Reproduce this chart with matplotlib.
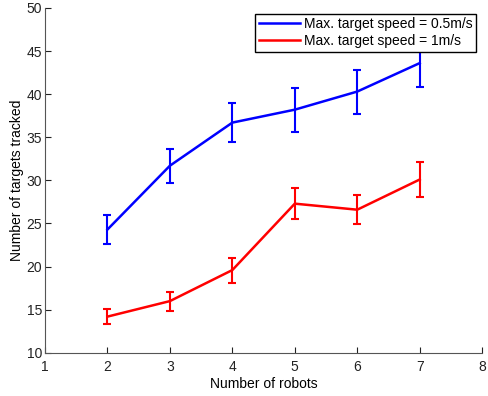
import matplotlib
matplotlib.use("Agg")
import matplotlib.pyplot as plt
from matplotlib.lines import Line2D

plt.rcParams['font.family'] = ['Liberation Sans', 'DejaVu Sans']

robots = [2, 3, 4, 5, 6, 7]
speed05_mean = [24.3, 31.7, 36.7, 38.2, 40.3, 43.6]
speed05_err = [1.65, 1.95, 2.3, 2.55, 2.55, 2.8]
speed1_mean = [14.2, 16.0, 19.6, 27.3, 26.6, 30.1]
speed1_err = [0.9, 1.1, 1.45, 1.8, 1.65, 2.0]
labels = ['Max. target speed = 0.5m/s', 'Max. target speed = 1m/s']
colors = ['#0000ff', '#ff0000']

fig = plt.figure(figsize=(4.89, 3.96), dpi=100)
ax = fig.add_axes([0.092, 0.109, 0.894, 0.871])

ax.errorbar(robots, speed05_mean, yerr=speed05_err, color=colors[0], lw=1.8,
            capsize=3, capthick=1.5, elinewidth=1.5)
ax.errorbar(robots, speed1_mean, yerr=speed1_err, color=colors[1], lw=1.8,
            capsize=3, capthick=1.5, elinewidth=1.5)

ax.set_xlim(1, 8)
ax.set_ylim(10, 50)
ax.set_xticks(range(1, 9))
ax.set_yticks(range(10, 51, 5))
ax.spines['top'].set_visible(False)
ax.spines['right'].set_visible(False)
ax.spines['left'].set_color('#555555')
ax.spines['bottom'].set_color('#555555')
ax.tick_params(direction='in', length=4, labelsize=10, colors='#222222')
ax.tick_params(axis='x', pad=5)
ax.tick_params(axis='y', pad=2)
ax.set_xlabel('Number of robots', fontsize=10, labelpad=2)
ax.set_ylabel('Number of targets tracked', fontsize=10, labelpad=2)

handles = [Line2D([], [], color=c, lw=1.8) for c in colors]
leg = ax.legend(handles, labels, loc='upper right', fontsize=10, frameon=True,
                fancybox=False, framealpha=1, borderpad=0.25, labelspacing=0.2,
                handlelength=3.0, handletextpad=0.3, borderaxespad=0,
                bbox_to_anchor=(0.987, 0.983))
leg.get_frame().set_edgecolor('black')
leg.get_frame().set_linewidth(1.0)
leg.set_zorder(10)

fig.savefig('out.png', dpi=100)
